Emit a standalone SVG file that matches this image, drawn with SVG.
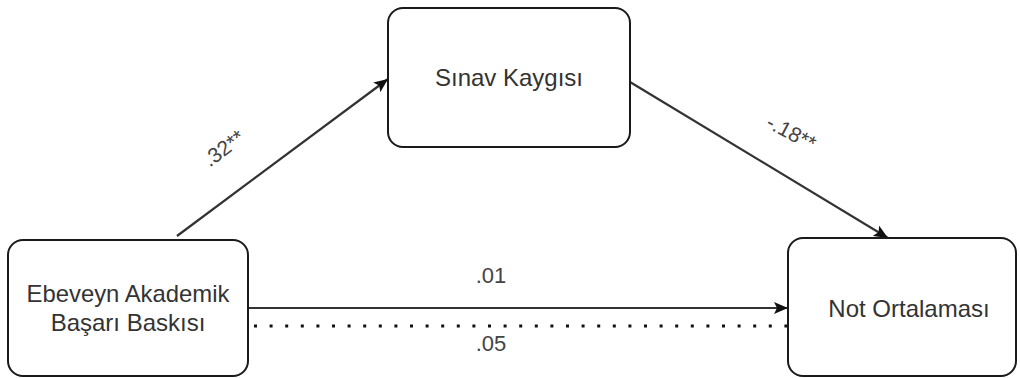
<svg xmlns="http://www.w3.org/2000/svg" width="1020" height="378" viewBox="0 0 1020 378">
<style>
.box{fill:#fff;stroke:#1a1a1a;stroke-width:2}
.node{font-family:"Liberation Sans",Arial,sans-serif;font-size:24px;fill:#333;text-anchor:middle}
.lbl{font-family:"Liberation Sans",Arial,sans-serif;font-size:21px;fill:#444;text-anchor:middle}
.edge{stroke:#333;stroke-width:2.2;fill:none}
</style>
<defs>
<marker id="arr" viewBox="0 0 14 12" refX="14" refY="6" markerWidth="14" markerHeight="12" markerUnits="userSpaceOnUse" orient="auto">
<path d="M0,0 L14,6 L0,12 L3,6 Z" fill="#111"/>
</marker>
</defs>
<rect width="1020" height="378" fill="#fff"/>
<g id="connectors">
<line class="edge" x1="177" y1="236" x2="388" y2="79" marker-end="url(#arr)"/>
<line class="edge" x1="630" y1="82" x2="888" y2="238" marker-end="url(#arr)"/>
<line class="edge" x1="248" y1="308" x2="788" y2="308" stroke="#111" marker-end="url(#arr)"/>
<line x1="254" y1="326" x2="788" y2="326" stroke="#111" stroke-width="3" stroke-dasharray="3 12.6"/>
<text class="lbl" transform="translate(228,154) rotate(-37)">.32**</text>
<text class="lbl" transform="translate(788,139) rotate(28)">-.18**</text>
<text class="lbl" x="491" y="283" style="font-size:22px">.01</text>
<text class="lbl" x="491" y="351" style="font-size:22px">.05</text>
</g>
<g id="node-ebeveyn">
<rect class="box" x="8" y="240" width="240" height="136" rx="15"/>
<text class="node" x="128" y="302" textLength="203" lengthAdjust="spacingAndGlyphs">Ebeveyn Akademik</text>
<text class="node" x="128" y="331">Başarı Baskısı</text>
</g>
<g id="node-sinav">
<rect class="box" x="388" y="8" width="242" height="139" rx="15"/>
<text class="node" x="509" y="86">Sınav Kaygısı</text>
</g>
<g id="node-not">
<rect class="box" x="788" y="238" width="228" height="138" rx="15"/>
<text class="node" x="909" y="317">Not Ortalaması</text>
</g>
</svg>
